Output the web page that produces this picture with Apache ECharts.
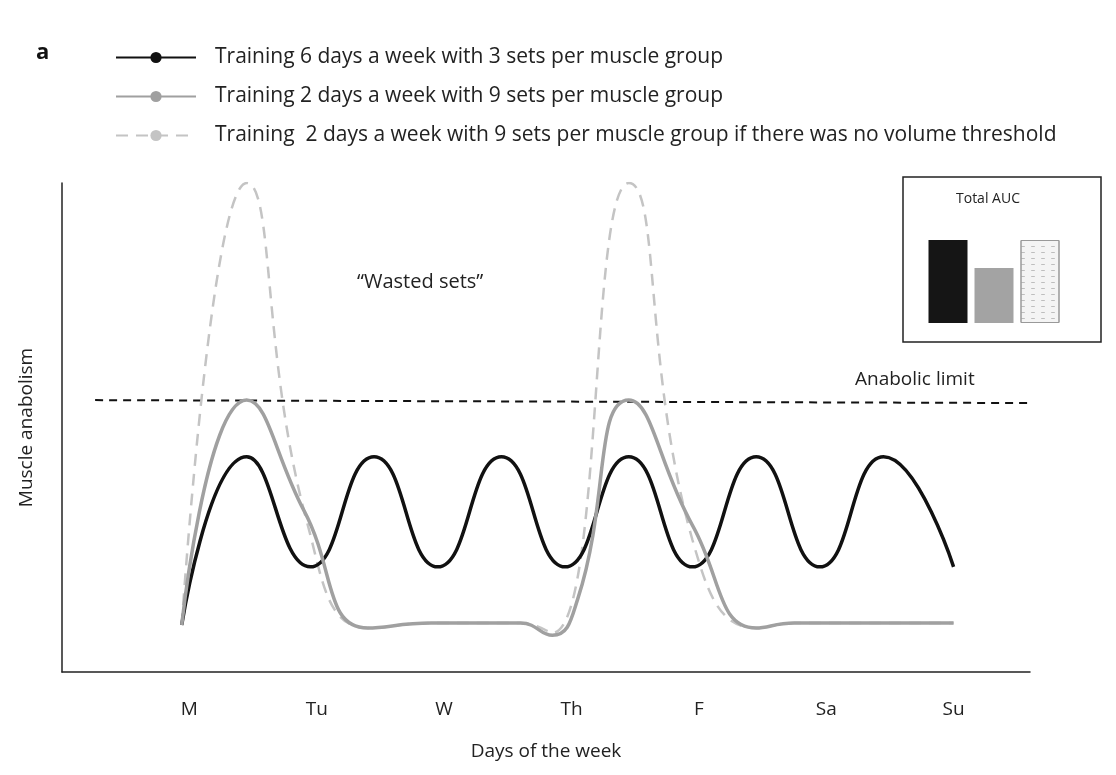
<!DOCTYPE html>
<html>
<head>
<meta charset="utf-8">
<script src="https://cdn.jsdelivr.net/npm/echarts@6/dist/echarts.min.js"></script>
<style>html,body{margin:0;padding:0;background:#fff}#main{width:1116px;height:775px}</style>
</head>
<body>
<div id="main"></div>
<script>
var dayLabels = ['M', 'Tu', 'W', 'Th', 'F', 'Sa', 'Su'];
// [day position, anabolism]
var sixDays = [[-0.06, 9.6], [0.45, 44], [0.95, 21.5], [1.45, 44], [1.95, 21.5], [2.45, 44], [2.95, 21.5],
    [3.45, 44], [3.95, 21.5], [4.45, 44], [4.95, 21.5], [5.45, 44], [6.0, 21.5]];
var twoDays = [[-0.06, 9.6], [0.45, 55.6], [0.9, 33], [1.4, 9], [1.9, 10], [2.6, 10], [2.85, 7.5], [3.05, 15],
    [3.45, 55.6], [3.95, 30], [4.45, 9], [4.75, 10], [6.0, 10]];
var noThreshold = [[-0.06, 9.6], [0.45, 100], [0.92, 31], [1.4, 9], [1.9, 10], [2.6, 10], [2.85, 8],
    [3.45, 100], [3.95, 27], [4.45, 9], [4.75, 10], [6.0, 10]];
var limitLine = [[-0.74, 55.6], [6.6, 55.0]];
var aucNames = ['6 days', '2 days', 'no threshold'];
var aucValues = [83, 55, 83];

var font = 'Open Sans';
var chart = echarts.init(document.getElementById('main'));
chart.setOption({
    textStyle: {fontFamily: font},
    legend: {
        left: 110, top: 42, orient: 'vertical', itemWidth: 80, itemHeight: 14, itemGap: 18,
        data: ['Training 6 days a week with 3 sets per muscle group',
            'Training 2 days a week with 9 sets per muscle group',
            'Training  2 days a week with 9 sets per muscle group if there was no volume threshold'],
        textStyle: {fontSize: 21, color: '#222', padding: [0, 0, 0, 14]},
        selectedMode: false
    },
    grid: [
        {left: 62, right: 86, top: 183, bottom: 103},
        {left: 925, top: 240, width: 138, height: 83}
    ],
    xAxis: [{
        type: 'value', min: -1, max: 6.6, interval: 1,
        axisLine: {lineStyle: {color: '#222', width: 1.5}},
        axisTick: {show: false}, splitLine: {show: false},
        axisLabel: {
            showMaxLabel: false, fontSize: 19, color: '#222', margin: 28,
            formatter: function (v) { return dayLabels[v] || ''; }
        },
        name: 'Days of the week', nameLocation: 'middle', nameGap: 70,
        nameTextStyle: {fontSize: 19, color: '#222'}
    }, {
        gridIndex: 1, type: 'category', data: aucNames, show: false
    }],
    yAxis: [{
        type: 'value', min: 0, max: 100,
        axisLine: {show: true, onZero: false, lineStyle: {color: '#222', width: 1.5}},
        axisTick: {show: false}, splitLine: {show: false}, axisLabel: {show: false},
        name: 'Muscle anabolism', nameLocation: 'middle', nameGap: 26,
        nameTextStyle: {fontSize: 19, color: '#222'}
    }, {
        gridIndex: 1, type: 'value', min: 0, max: 83, show: false
    }],
    graphic: [
        {type: 'text', left: 36, top: 42, style: {text: 'a', font: 'bold 22px ' + font, fill: '#111'}},
        {type: 'text', left: 357, top: 272, style: {text: '\u201cWasted sets\u201d', font: '20px ' + font, fill: '#222'}},
        {type: 'text', left: 855, top: 370, style: {text: 'Anabolic limit', font: '19px ' + font, fill: '#222'}},
        {type: 'rect', shape: {x: 903, y: 177, width: 198, height: 165}, style: {fill: 'none', stroke: '#222', lineWidth: 1.5}},
        {type: 'text', left: 956, top: 192, style: {text: 'Total AUC', font: '14px ' + font, fill: '#222'}}
    ],
    series: [{
        name: 'Training 6 days a week with 3 sets per muscle group',
        type: 'line', data: sixDays, smooth: 0.5, symbol: 'none',
        lineStyle: {color: '#111', width: 3.5}, itemStyle: {color: '#111'}, z: 3
    }, {
        name: 'Training 2 days a week with 9 sets per muscle group',
        type: 'line', data: twoDays, smooth: 0.5, symbol: 'none',
        lineStyle: {color: '#a0a0a0', width: 3.5}, itemStyle: {color: '#a0a0a0'}, z: 4
    }, {
        name: 'Training  2 days a week with 9 sets per muscle group if there was no volume threshold',
        type: 'line', data: noThreshold, smooth: 0.5, symbol: 'none',
        lineStyle: {color: '#c4c4c4', width: 2.5, type: [12, 8]}, itemStyle: {color: '#c4c4c4'}, z: 2
    }, {
        name: 'limit', type: 'line', data: limitLine, symbol: 'none',
        lineStyle: {color: '#111', width: 2, type: [8, 6]}, z: 1
    }, {
        name: 'auc', type: 'bar', xAxisIndex: 1, yAxisIndex: 1, barWidth: 39,
        data: [
            {value: aucValues[0], itemStyle: {color: '#151515'}},
            {value: aucValues[1], itemStyle: {color: '#a3a3a3'}},
            {value: aucValues[2], itemStyle: {color: '#f4f4f4', borderColor: '#999', borderWidth: 1,
                decal: {symbol: 'rect', symbolSize: 0.6, dashArrayX: [[6, 4]], dashArrayY: [1, 5], color: '#9a9a9a', rotation: 0}}}
        ]
    }]
});
</script>
</body>
</html>
